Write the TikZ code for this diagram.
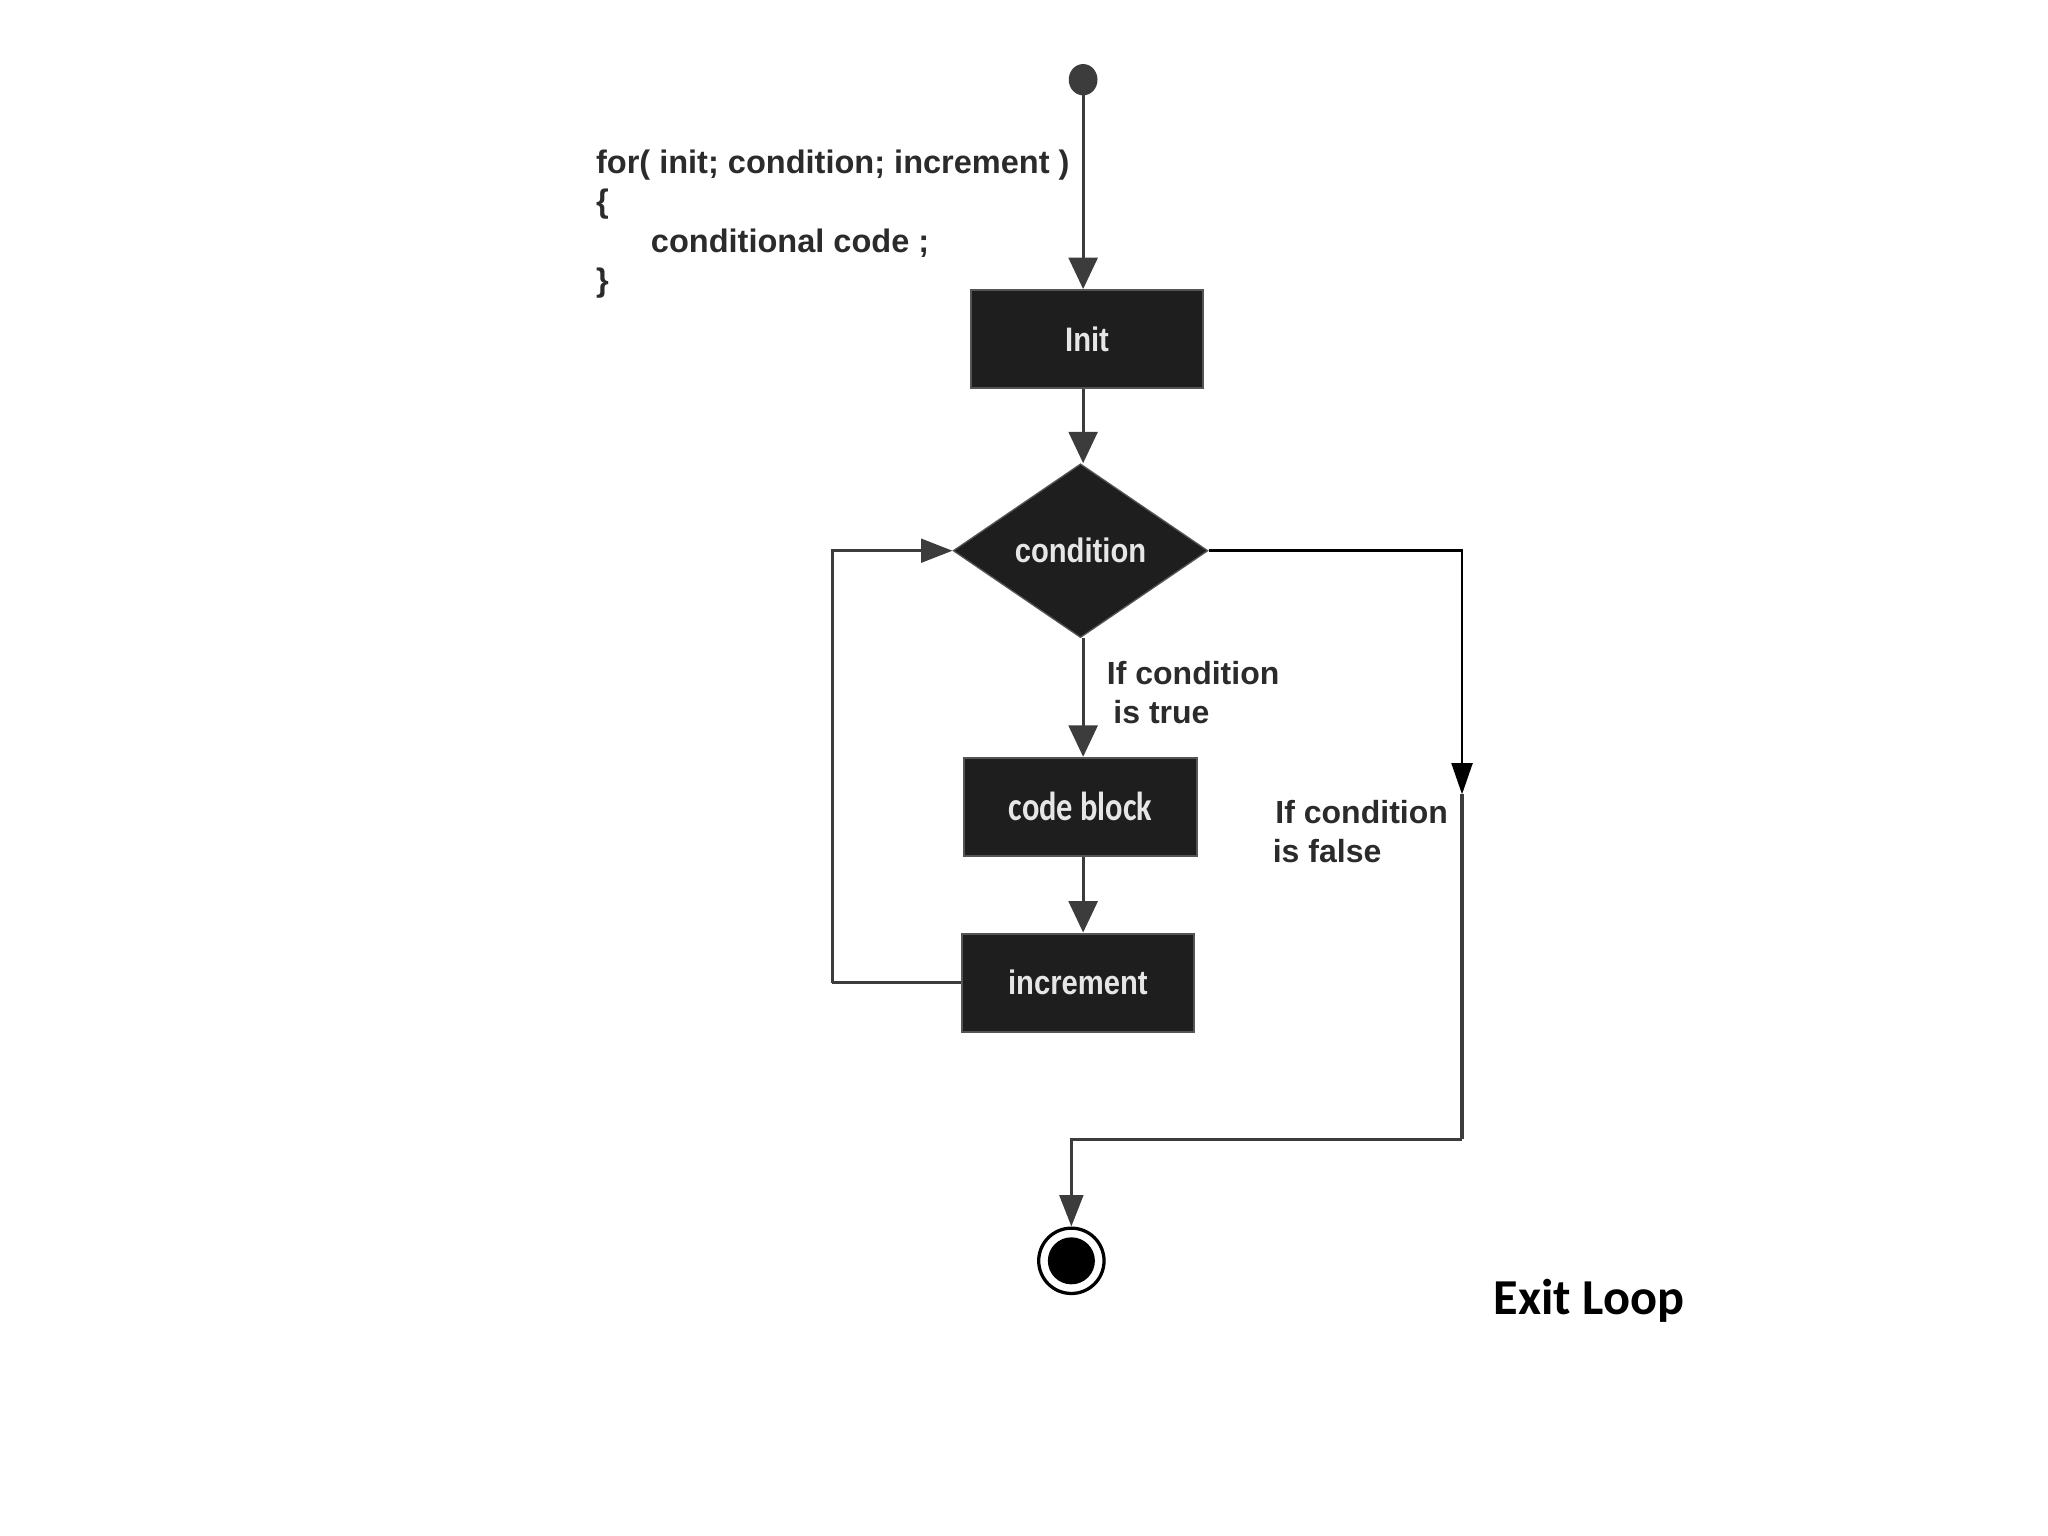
\documentclass[tikz,border=0pt]{standalone}
\usepackage{fontspec}
\setmainfont{Liberation Sans}
\newfontfamily\boxfont[FakeStretch=0.86]{Liberation Sans}
\newfontfamily\cbfont[FakeStretch=0.8]{Carlito}
\newfontfamily\exitfont{Carlito}
\usetikzlibrary{arrows.meta,shapes.geometric}
\definecolor{boxfill}{HTML}{1E1E1E}
\definecolor{boxedge}{HTML}{555555}
\definecolor{linegray}{HTML}{3C3C3C}
\definecolor{labelgray}{HTML}{2B2B2B}
\definecolor{boxtext}{HTML}{E6E6E6}
\begin{document}
\begin{tikzpicture}[x=1pt,y=-1pt,
  stepbox/.style={rectangle,fill=boxfill,draw=boxedge,line width=1.5pt,
    minimum width=178pt,minimum height=75pt,inner sep=0pt,text=boxtext,
    font=\boxfont\bfseries\fontsize{26}{30}\selectfont},
  decbox/.style={diamond,fill=boxfill,draw=boxedge,line width=1pt,
    minimum width=195pt,minimum height=133pt,inner sep=0pt,text=boxtext,
    font=\boxfont\bfseries\fontsize{26}{30}\selectfont},
  garrow/.style={draw=linegray,line width=2.5pt,
    -{Triangle[width=22pt,length=24pt]}},
  sarrow/.style={draw=linegray,line width=2.5pt,
    -{Triangle[width=18pt,length=24pt]}},
  gline/.style={draw=linegray,line width=2.5pt},
  barrow/.style={draw=black,line width=2pt,
    -{Triangle[width=16pt,length=24pt]}},
  lbl/.style={anchor=base west,inner sep=0pt,text=labelgray,
    font=\bfseries\fontsize{24.5}{30}\selectfont},
  codelbl/.style={lbl,font=\bfseries\fontsize{24.9}{30}\selectfont},
]
\useasboundingbox (0,0) rectangle (1567.5,1175.6);

% start
\fill[linegray] (829,61) ellipse (11pt and 12pt);
\coordinate (start) at (829,61);

% nodes
\node[stepbox] (init) at (832,259.5) {Init};
\node[decbox] (cond) at (827,421.5) {condition};
\node[stepbox,font=\cbfont\bfseries\fontsize{31}{34}\selectfont] (code) at (827,617.5) {code block};
\node[stepbox] (inc) at (825,752) {increment};
\node[circle,draw=black,line width=2.5pt,fill=white,minimum size=50pt,inner sep=0pt] (endc) at (820,965) {};
\fill[black] (endc.center) circle (18pt);

% helper coordinates
\coordinate (fa) at (1119,608);
\coordinate (turn) at (1119,872);
\coordinate (loopx) at (637,752);

% connectors
\draw[garrow] (start) -- (start |- init.north);
\draw[garrow] (start |- init.south) -- (start |- cond.north);
\draw[garrow] (start |- cond.south) -- (start |- code.north);
\draw[garrow] (start |- code.south) -- (start |- inc.north);
\draw[gline] (inc.west) -- (loopx);
\draw[sarrow] (loopx) |- (cond.west);
\draw[barrow] (cond.east) -| (fa);
\draw[gline] (fa) -- (turn);
\draw[sarrow] (turn) -| (endc.north);

% code text
\node[codelbl] (l1) at (456,133) {for( init; condition; increment )};
\node[codelbl] (l2) at (456,163) {\{};
\node[codelbl] (l3) at (498,193) {conditional code ;};
\node[codelbl] (l4) at (456,223) {\}};

% labels
\node[lbl] (t1) at (847,524) {If condition};
\node[lbl] (t2) at (852,554) {is true};
\node[lbl] (f1) at (976,630) {If condition};
\node[lbl] (f2) at (974,660) {is false};

\node[anchor=base west,inner sep=0pt,font=\exitfont\bfseries\fontsize{38.5}{44}\selectfont] (exit) at (1143,1006) {Exit Loop};
\end{tikzpicture}
\end{document}
